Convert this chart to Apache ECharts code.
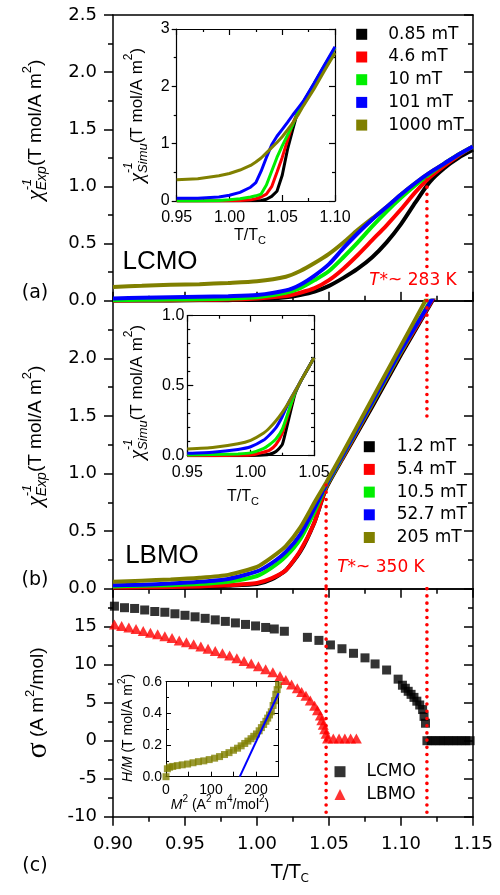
<!DOCTYPE html>
<html><head><meta charset="utf-8">
<script src="https://cdn.jsdelivr.net/npm/echarts@6/dist/echarts.min.js"></script>
<style>html,body{margin:0;padding:0;background:#fff}#c{width:500px;height:895px}</style>
</head><body><div id="c"></div>
<script>
// ================= DATA =================
// Panel (a): LCMO, chi^-1 experimental vs T/Tc
const tA = [0.90,0.92,0.94,0.96,0.98,1.00,1.02,1.03,1.04,1.05,1.06,1.07,1.08,1.09,1.10,1.11,1.12,1.13,1.14,1.15];
const a_085  = [0.00,0.00,0.00,0.003,0.005,0.01,0.03,0.05,0.08,0.13,0.20,0.28,0.38,0.51,0.67,0.86,1.04,1.16,1.25,1.32];
const a_46   = [0.00,0.003,0.005,0.008,0.01,0.02,0.04,0.07,0.11,0.18,0.28,0.40,0.53,0.66,0.80,0.95,1.08,1.18,1.27,1.35];
const a_10   = [0.005,0.008,0.01,0.012,0.018,0.03,0.07,0.11,0.18,0.26,0.38,0.51,0.65,0.78,0.90,1.01,1.11,1.20,1.28,1.35];
const a_101  = [0.02,0.025,0.03,0.035,0.04,0.05,0.09,0.14,0.22,0.32,0.46,0.59,0.71,0.82,0.93,1.03,1.12,1.20,1.28,1.35];
const a_1000 = [0.12,0.13,0.14,0.145,0.155,0.17,0.21,0.26,0.33,0.41,0.51,0.62,0.72,0.82,0.93,1.03,1.12,1.20,1.28,1.35];
// Inset (a): chi^-1 simulated
const tIA = [0.95,0.97,0.99,1.00,1.01,1.02,1.025,1.03,1.035,1.04,1.045,1.05,1.055,1.06,1.065,1.07,1.08,1.09,1.10];
const ia_085  = [0,0,0,0,0,0.003,0.006,0.01,0.03,0.08,0.17,0.45,0.90,1.25,1.58,1.72,2.03,2.35,2.66];
const ia_46   = [0,0,0,0.005,0.01,0.02,0.04,0.07,0.12,0.25,0.50,0.76,1.06,1.36,1.56,1.72,2.03,2.35,2.66];
const ia_10   = [0,0,0.01,0.02,0.04,0.07,0.09,0.12,0.28,0.52,0.76,0.96,1.15,1.33,1.55,1.72,2.04,2.36,2.67];
const ia_101  = [0.05,0.05,0.07,0.10,0.15,0.24,0.32,0.52,0.76,0.98,1.13,1.25,1.37,1.50,1.62,1.74,2.05,2.37,2.69];
const ia_1000 = [0.37,0.39,0.44,0.48,0.54,0.62,0.68,0.75,0.84,0.93,1.02,1.12,1.24,1.36,1.50,1.66,1.95,2.27,2.58];
// Panel (b): LBMO
const tB = [0.90,0.92,0.94,0.96,0.98,1.00,1.01,1.02,1.03,1.04,1.048,1.06,1.08,1.10,1.12,1.13];
const b_12  = [0.005,0.008,0.01,0.015,0.025,0.04,0.08,0.16,0.32,0.58,0.87,1.14,1.58,2.03,2.46,2.68];
const b_54  = [0.01,0.012,0.015,0.02,0.03,0.05,0.09,0.16,0.33,0.58,0.88,1.15,1.60,2.05,2.47,2.69];
const b_105 = [0.02,0.025,0.03,0.04,0.06,0.11,0.18,0.28,0.43,0.67,0.89,1.16,1.61,2.06,2.49,2.71];
const b_527 = [0.03,0.035,0.045,0.06,0.085,0.15,0.22,0.32,0.47,0.70,0.90,1.17,1.62,2.07,2.48,2.70];
const b_205 = [0.06,0.07,0.08,0.095,0.12,0.19,0.27,0.37,0.53,0.75,0.92,1.19,1.65,2.11,2.57,2.80];
// Inset (b)
const tIB = [0.95,0.97,0.99,1.00,1.01,1.015,1.02,1.025,1.03,1.035,1.04,1.045,1.05];
const ib_12  = [0,0,0,0.002,0.005,0.01,0.03,0.08,0.26,0.44,0.54,0.62,0.70];
const ib_54  = [0,0,0.003,0.005,0.025,0.04,0.08,0.16,0.31,0.45,0.54,0.62,0.70];
const ib_105 = [0.005,0.008,0.013,0.02,0.05,0.08,0.12,0.19,0.32,0.45,0.54,0.62,0.70];
const ib_527 = [0.017,0.025,0.045,0.064,0.11,0.15,0.20,0.28,0.38,0.46,0.54,0.62,0.70];
const ib_205 = [0.048,0.058,0.085,0.11,0.16,0.20,0.25,0.31,0.38,0.46,0.54,0.62,0.70];
// Panel (c): spontaneous magnetisation sigma
const lcmoT = [0.901,0.908,0.915,0.922,0.929,0.936,0.943,0.950,0.957,0.964,0.971,0.978,0.985,0.992,0.999,1.006,1.012,1.019,
  1.035,1.043,1.051,1.059,1.067,1.075,1.082,1.090,1.098,
  1.101,1.103,1.105,1.107,1.109,1.111,1.113,1.115,1.116,1.117,
  1.118,1.121,1.124,1.127,1.130,1.133,1.136,1.139,1.142,1.145,1.148];
const lcmoS = [17.7,17.5,17.4,17.2,17.0,16.9,16.7,16.5,16.3,16.1,15.9,15.7,15.5,15.3,15.1,14.9,14.7,14.4,
  13.6,13.2,12.6,12.1,11.5,10.9,10.1,9.3,8.1,
  7.3,6.9,6.5,6.1,5.7,5.2,4.7,4.1,3.2,2.3,
  0,0,0,0,0,0,0,0,0,0,0];
const lbmoT = [0.901,0.906,0.911,0.916,0.921,0.926,0.931,0.936,0.941,0.946,0.951,0.956,0.961,0.966,0.971,0.976,0.981,0.986,0.991,0.996,
  1.001,1.006,1.011,1.016,
  1.020,1.024,1.028,1.031,1.034,1.037,1.040,1.042,1.044,1.045,1.046,1.047,1.048,1.049,
  1.053,1.057,1.061,1.065,1.069];
const lbmoS = [15.3,15.1,14.9,14.7,14.45,14.2,14.0,13.75,13.5,13.2,12.95,12.7,12.4,12.1,11.8,11.5,11.2,10.85,10.5,10.15,
  9.8,9.4,9.0,8.5,
  8.0,7.4,6.9,6.4,5.9,5.3,4.6,4.0,3.3,2.7,2.1,1.5,0.9,0.3,
  0.3,0.3,0.3,0.3,0.3];
// Inset (c): Arrott plot H/M vs M^2
const icM2 = [0,3,8,15,25,36,48,60,72,84,96,108,119,130,140,150,159,167,175,182,189,195,201,207,212,217,222,226,230,234,238,241,244,247,250];
const icHM = [0.0,0.05,0.06,0.065,0.07,0.075,0.08,0.088,0.095,0.10,0.108,0.117,0.127,0.14,0.152,0.167,0.18,0.195,0.21,0.225,0.24,0.255,0.27,0.29,0.31,0.33,0.35,0.37,0.39,0.41,0.45,0.48,0.52,0.55,0.58];
const fitM2 = [164, 250];
const fitHM = [0, 0.527];
// T* markers
const tStarLCMO = 1.118, tStarLBMO = 1.048;
const namesA = ['0.85 mT','4.6 mT','10 mT','101 mT','1000 mT'];
const namesB = ['1.2 mT','5.4 mT','10.5 mT','52.7 mT','205 mT'];
const COL = {k:'#000000', r:'#ff0000', g:'#00ee00', b:'#0000ff', o:'#808000'};

// ================= HELPERS =================
function common(o){
  const lw = o.lw ?? 1.5;
  return {
    axisLine:{show:true,onZero:false,lineStyle:{color:'#000',width:lw}},
    axisTick:{show:o.tick!==false,inside:!!o.inside,length:o.tl ?? 9,lineStyle:{color:'#000',width:lw}},
    minorTick:{show:o.tick!==false && !!o.split,splitNumber:o.split||2,length:o.ml ?? 5,lineStyle:{color:'#000',width:lw}},
    axisLabel:{show:!!o.fmt,formatter:o.fmt,margin:o.margin ?? 8,fontSize:o.fs ?? 18,fontFamily:o.ff || 'DejaVu Sans',color:'#000',
      showMaxLabel:o.showMax, showMinLabel:o.showMin},
    splitLine:{show:false},minorSplitLine:{show:false}
  };
}
function X(g,min,max,interval,position,o={}){return Object.assign({type:'value',gridIndex:g,min,max,interval,position},common(o));}
function Y(g,min,max,interval,position,o={}){return Object.assign({type:'value',gridIndex:g,min,max,interval,position},common(o));}
const f1 = v=>v.toFixed(1), f2 = v=>v.toFixed(2), f0 = v=>String(v);
const LS = 'Liberation Sans';

// g = grid index; bottom x axis / left y axis of grid g have index 2*g
function line(name,g,t,v,color,w,smooth,z){
  return {type:'line',name,xAxisIndex:2*g,yAxisIndex:2*g,data:t.map((x,i)=>[x,v[i]]),symbol:'none',
    smooth:smooth,lineStyle:{color,width:w},itemStyle:{color},z:z||2,silent:true};
}
function dots(g,x,y0,y1){
  return {type:'line',xAxisIndex:2*g,yAxisIndex:2*g,data:[[x,y0],[x,y1]],symbol:'none',
    lineStyle:{color:'#ff0000',width:3.6,type:[0.01,7.2],cap:'round'},itemStyle:{color:'#ff0000'},z:6,silent:true};
}
function scat(name,g,xs,ys,symbol,size,color,z){
  return {type:'scatter',name,xAxisIndex:2*g,yAxisIndex:2*g,data:xs.map((x,i)=>[x,ys[i]]),symbol,symbolSize:size,itemStyle:{color},silent:true,z:z||3};
}
const meas = document.createElement('canvas').getContext('2d');
function tw(t,f){meas.font=f;return meas.measureText(t).width;}
// pieces of text laid out along a line, centred at (cx,cy), rotated by rot
function txt(cx,cy,rot,pieces,extra){
  let s=0, stackW=0; const pos=[];
  pieces.forEach(p=>{const w=tw(p.t,p.f); pos.push(s); if(p.stack){stackW=Math.max(stackW,w);} else {s+=Math.max(w,stackW);stackW=0;}});
  const ax=Math.cos(rot), ay=-Math.sin(rot), ux=-Math.sin(rot), uy=-Math.cos(rot);
  const sx=cx-ax*s/2, sy=cy-ay*s/2;
  return pieces.map((p,i)=>({type:'text',x:sx+ax*pos[i]+ux*(p.up||0),y:sy+ay*pos[i]+uy*(p.up||0),rotation:rot,z:100,
    style:Object.assign({text:p.t,font:p.f,fill:p.c||'#000',align:'left',verticalAlign:'middle'},extra||{})}));
}
const S = n=>n+'px "Liberation Sans"', SI = n=>'italic '+n+'px "Liberation Sans"', SR = n=>n+'px "Liberation Serif"', SRI = n=>'italic '+n+'px "Liberation Serif"';
const D = n=>n+'px "DejaVu Sans"', DI = n=>'italic '+n+'px "DejaVu Sans"';
const V = Math.PI/2;

function chiTitle(cx,cy,sub,big,small,sup){
  return txt(cx,cy,V,[
    {t:'χ',f:SRI(big+4)},
    {t:'-1',f:SI(small),up:sup,stack:true},
    {t:sub,f:SI(small+1),up:-6},
    {t:'(T mol/A m',f:S(big)},
    {t:'2',f:S(small),up:sup},
    {t:')',f:S(big)}]);
}

const graphics = [].concat(
  chiTitle(36,130,'Exp',19,13,9),
  chiTitle(36,436,'Exp',19,13,9),
  txt(38,703,V,[{t:'σ',f:SR(30)},{t:' (A m',f:S(19)},{t:'2',f:S(13),up:8},{t:'/mol)',f:S(19)}]),
  chiTitle(137,115,'Simu',17,12,8),
  chiTitle(137,392,'Simu',17,12,8),
  txt(128,728,V,[{t:'H/M',f:SI(14)},{t:' (T mol/A m',f:S(14)},{t:'2',f:S(10),up:6},{t:')',f:S(14)}]),
  txt(290,873,0,[{t:'T/T',f:D(19)},{t:'C',f:D(12),up:-6}]),
  txt(250,236,0,[{t:'T/T',f:S(16)},{t:'C',f:S(11),up:-5}]),
  txt(243,497,0,[{t:'T/T',f:S(16)},{t:'C',f:S(11),up:-5}]),
  txt(220,805,0,[{t:'M',f:SI(14)},{t:'2',f:S(10),up:6},{t:' (A',f:S(14)},{t:'2',f:S(10),up:6},{t:' m',f:S(14)},{t:'4',f:S(10),up:6},{t:'/mol',f:S(14)},{t:'2',f:S(10),up:6},{t:')',f:S(14)}]),
  txt(35,293,0,[{t:'(a)',f:D(19)}]),
  txt(35,580,0,[{t:'(b)',f:D(19)}]),
  txt(35,866,0,[{t:'(c)',f:D(19)}]),
  txt(160,262,0,[{t:'LCMO',f:S(26)}]),
  txt(162,556,0,[{t:'LBMO',f:S(26)}]),
  txt(413,281,0,[{t:'T',f:DI(17),c:'#ff0000'},{t:'*~ 283 K',f:D(17),c:'#ff0000'}],{backgroundColor:'#fff',padding:[2,0]}),
  txt(381,568,0,[{t:'T',f:DI(17),c:'#ff0000'},{t:'*~ 350 K',f:D(17),c:'#ff0000'}])
);

function legend(data,left,top,pad){
  return {data,orient:'vertical',left,top,itemWidth:11,itemHeight:11,itemGap:5.7,icon:'rect',selectedMode:false,padding:0,
    formatter:n=>'{n|'+n+'}',
    textStyle:{fontSize:17,color:'#000',fontFamily:'DejaVu Sans',rich:{n:{fontSize:17,color:'#000',fontFamily:'DejaVu Sans',padding:[0,0,0,pad]}}}};
}

const option = {
  animation:false,
  textStyle:{fontFamily:'Liberation Sans'},
  grid:[
    {left:113,top:15,width:360,height:285.7},
    {left:113,top:300.7,width:360,height:288},
    {left:113,top:588.7,width:360,height:228},
    {left:176.7,top:29,width:158.3,height:172},
    {left:187.3,top:315.7,width:126.7,height:140},
    {left:166,top:681.7,width:112.5,height:95}
  ],
  xAxis:[
    X(0,0.9,1.15,0.05,'bottom',{inside:true,split:2}),
    X(0,0.9,1.15,0.05,'top',{tick:false}),
    X(1,0.9,1.15,0.05,'bottom',{split:2}),
    X(1,0.9,1.15,0.05,'top',{tick:false}),
    X(2,0.9,1.15,0.05,'bottom',{split:2,fmt:f2,margin:19}),
    X(2,0.9,1.15,0.05,'top',{tick:false}),
    X(3,0.95,1.10,0.05,'bottom',{inside:true,split:2,tl:6,ml:3,lw:1.2,fmt:f2,margin:9,fs:16,ff:LS}),
    X(3,0.95,1.10,0.05,'top',{inside:true,split:2,tl:6,ml:3,lw:1.2}),
    X(4,0.95,1.05,0.05,'bottom',{inside:true,split:2,tl:6,ml:3,lw:1.2,fmt:f2,margin:9,fs:16,ff:LS}),
    X(4,0.95,1.05,0.05,'top',{inside:true,split:2,tl:6,ml:3,lw:1.2}),
    X(5,0,250,50,'bottom',{inside:true,tl:5,lw:1,fmt:v=>(v%100===0?String(v):''),margin:6,fs:14,ff:LS,showMax:false}),
    X(5,0,250,50,'top',{inside:true,tl:5,lw:1})
  ],
  yAxis:[
    Y(0,0,2.5,0.5,'left',{split:2,fmt:f1,margin:16}),
    Y(0,0,2.5,0.5,'right',{inside:true,split:2}),
    Y(1,0,2.5,0.5,'left',{split:2,fmt:f1,margin:16,showMax:false}),
    Y(1,0,2.5,0.5,'right',{inside:true,split:2}),
    Y(2,-10,20,5,'left',{split:2,fmt:f0,margin:16,showMax:false}),
    Y(2,-10,20,5,'right',{inside:true,split:2}),
    Y(3,0,3,1,'left',{split:2,tl:5,ml:3,lw:1.2,fmt:f0,margin:7,fs:16,ff:LS}),
    Y(3,0,3,1,'right',{inside:true,split:2,tl:6,ml:3,lw:1.2}),
    Y(4,0,1,0.5,'left',{inside:true,split:5,tl:6,ml:3,lw:1.2,fmt:f1,margin:3,fs:16,ff:LS}),
    Y(4,0,1,0.5,'right',{inside:true,split:5,tl:6,ml:3,lw:1.2}),
    Y(5,0,0.6,0.2,'left',{inside:true,split:2,tl:5,ml:3,lw:1,fmt:f1,margin:4,fs:14,ff:LS}),
    Y(5,0,0.6,0.2,'right',{inside:true,split:2,tl:5,ml:3,lw:1})
  ],
  legend:[
    legend(namesA,356.2,25.8,16),
    legend(namesB,363.8,438.2,17),
    Object.assign(legend(['LCMO','LBMO'],334.5,763.2,16),{data:[{name:'LCMO',icon:'rect'},{name:'LBMO',icon:'triangle'}]})
  ],
  graphic:graphics,
  series:[
    // panel a
    line(namesA[0],0,tA,a_085,COL.k,4,0.25),
    line(namesA[1],0,tA,a_46,COL.r,4,0.25),
    line(namesA[2],0,tA,a_10,COL.g,4,0.25),
    line(namesA[4],0,tA,a_1000,COL.o,4,0.25),
    line(namesA[3],0,tA,a_101,COL.b,4,0.25),
    dots(0,tStarLCMO,1.057,0),
    // panel b
    line(namesB[0],1,tB,b_12,COL.k,4,0.2),
    line(namesB[1],1,tB,b_54,COL.r,4,0.2),
    line(namesB[2],1,tB,b_105,COL.g,4,0.2),
    line(namesB[3],1,tB,b_527,COL.b,4,0.2),
    line(namesB[4],1,tB,b_205,COL.o,4,0.2),
    dots(1,tStarLCMO,2.5,1.49),
    dots(1,tStarLBMO,0.9,0),
    // panel c
    scat('LCMO',2,lcmoT,lcmoS,'rect',9,'#000',3),
    scat('LBMO',2,lbmoT,lbmoS,'triangle',[11,10],'#ff0000',4),
    dots(2,tStarLCMO,20,-10),
    dots(2,tStarLBMO,20,-10),
    // inset a
    line('ia1',3,tIA,ia_085,COL.k,3,false),
    line('ia2',3,tIA,ia_46,COL.r,3,false),
    line('ia3',3,tIA,ia_10,COL.g,3,false),
    line('ia4',3,tIA,ia_101,COL.b,3,false),
    line('ia5',3,tIA,ia_1000,COL.o,3,false),
    // inset b
    line('ib1',4,tIB,ib_12,COL.k,3,0.15),
    line('ib2',4,tIB,ib_54,COL.r,3,0.15),
    line('ib3',4,tIB,ib_105,COL.g,3,0.15),
    line('ib4',4,tIB,ib_527,COL.b,3,0.15),
    line('ib5',4,tIB,ib_205,COL.o,3,0.15),
    // inset c
    scat('HM',5,icM2,icHM,'rect',7,COL.o,3),
    line('fit',5,fitM2,fitHM,COL.b,2,false,4)
  ]
};
const chart = echarts.init(document.getElementById('c'),null,{renderer:'canvas'});
chart.setOption(option);
</script></body></html>
